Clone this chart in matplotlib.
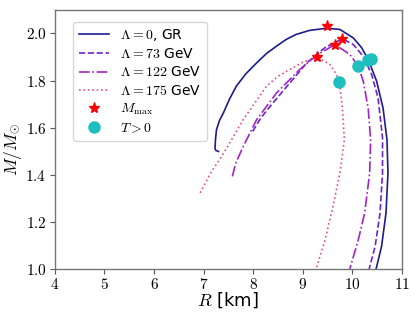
import matplotlib
matplotlib.use("Agg")
import matplotlib.pyplot as plt
from matplotlib.ticker import FuncFormatter

plt.rcParams['mathtext.fontset'] = 'cm'
plt.rcParams['font.family'] = ['DejaVu Sans']

# Mass-radius curves (R in km, M in solar masses)
R_gr = [7.30, 7.25, 7.23, 7.24, 7.26, 7.32, 7.40, 7.52, 7.66, 7.85, 8.07, 8.27, 8.47, 8.67, 8.87, 9.14, 9.48, 9.75, 10.02, 10.19, 10.32, 10.49, 10.62, 10.70, 10.72, 10.68, 10.59, 10.48]
M_gr = [1.499, 1.503, 1.510, 1.55, 1.591, 1.630, 1.663, 1.720, 1.776, 1.828, 1.875, 1.915, 1.946, 1.975, 1.996, 2.013, 2.022, 2.017, 1.981, 1.939, 1.889, 1.798, 1.684, 1.549, 1.407, 1.237, 1.095, 1.0]

R_73 = [7.99, 8.15, 8.34, 8.54, 8.74, 9.08, 9.45, 9.80, 10.02, 10.22, 10.39, 10.52, 10.61, 10.61, 10.56, 10.46, 10.34]
M_73 = [1.584, 1.64, 1.69, 1.74, 1.79, 1.875, 1.94, 1.977, 1.953, 1.903, 1.826, 1.726, 1.556, 1.407, 1.237, 1.095, 1.0]

R_122 = [7.58, 7.65, 7.80, 8.07, 8.47, 8.94, 9.30, 9.65, 9.95, 10.12, 10.22, 10.32, 10.37, 10.35, 10.25, 10.12, 9.95]
M_122 = [1.393, 1.45, 1.52, 1.634, 1.747, 1.847, 1.91, 1.953, 1.911, 1.861, 1.798, 1.684, 1.549, 1.407, 1.237, 1.123, 1.0]

R_175 = [6.93, 7.15, 7.40, 7.80, 8.05, 8.27, 8.50, 8.74, 9.00, 9.29, 9.55, 9.68, 9.74, 9.80, 9.84, 9.75, 9.61, 9.45, 9.27]
M_175 = [1.323, 1.41, 1.49, 1.634, 1.710, 1.776, 1.818, 1.847, 1.878, 1.899, 1.868, 1.826, 1.794, 1.684, 1.549, 1.407, 1.265, 1.123, 1.0]

# Maximum-mass points
R_max = [9.48, 9.80, 9.65, 9.29]
M_max = [2.030, 1.978, 1.953, 1.899]

# T > 0 points
R_T = [10.37, 10.31, 10.12, 9.74]
M_T = [1.892, 1.889, 1.861, 1.794]

labels = [r'$\Lambda=0$, GR', r'$\Lambda=73$ GeV', r'$\Lambda=122$ GeV', r'$\Lambda=175$ GeV']
colors = ['#1c1c8e', '#6a24d0', '#a424c4', '#e2508c']
styles = ['-', '--', '-.', ':']

fig = plt.figure(figsize=(4.16, 3.19), dpi=100)
ax = fig.add_axes([0.132, 0.157, 0.834, 0.812])

for R, M, lab, c, ls in zip([R_gr, R_73, R_122, R_175], [M_gr, M_73, M_122, M_175], labels, colors, styles):
    ax.plot(R, M, ls=ls, color=c, lw=1.2, label=lab)

ax.plot(R_max, M_max, ls='none', marker='*', color='red', ms=8, label=r'$M_{\rm max}$', zorder=5)
ax.plot(R_T, M_T, ls='none', marker='o', color='#1fbfbf', ms=8, label=r'$T>0$', zorder=4)

ax.set_xlim(4, 11)
ax.set_ylim(1.0, 2.1)
ax.set_xticks([4, 5, 6, 7, 8, 9, 10, 11])
ax.set_yticks([1.0, 1.2, 1.4, 1.6, 1.8, 2.0])
ax.xaxis.set_major_formatter(FuncFormatter(lambda v, p: r'$%d$' % v))
ax.yaxis.set_major_formatter(FuncFormatter(lambda v, p: r'$%.1f$' % v))
ax.tick_params(labelsize=11, color='#555555', length=3.5, pad=2.5)
for s in ax.spines.values():
    s.set_color('#777777')
    s.set_linewidth(1.0)

ax.set_xlabel(r'$R$ [km]', fontsize=13)
ax.set_ylabel(r'$M/M_{\odot}$', fontsize=12.5)
ax.xaxis.set_label_coords(0.5, -0.085)
ax.yaxis.set_label_coords(-0.09, 0.46)

leg = ax.legend(loc='upper left', bbox_to_anchor=(0.052, 0.955), borderaxespad=0,
                fontsize=10, frameon=True, handlelength=2.2, labelspacing=0.3)
leg.get_frame().set_edgecolor('#cccccc')

fig.savefig('out.png', dpi=100)
